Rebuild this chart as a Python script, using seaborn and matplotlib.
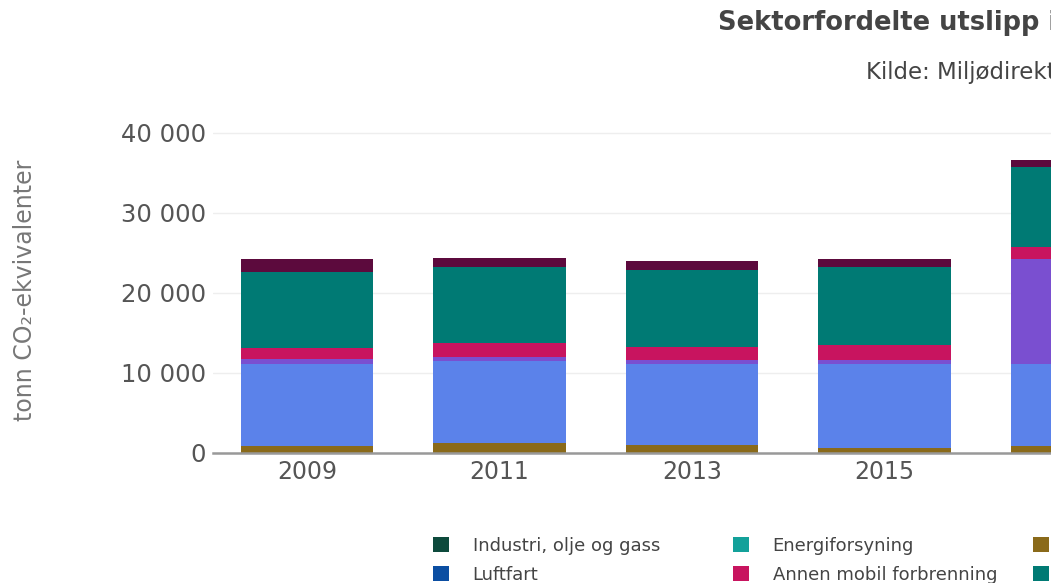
import matplotlib
matplotlib.use("Agg")
import matplotlib.pyplot as plt
import seaborn as sns
from matplotlib.patches import Patch
from matplotlib.ticker import FuncFormatter

# --- data (tonn CO2-ekvivalenter) ---
years = ["2009", "2011", "2013", "2015", "2017"]

industri = [0, 0, 0, 0, 0]
energiforsyning = [0, 0, 0, 0, 0]
oppvarming = [900, 1250, 1050, 650, 870]
veitrafikk = [10220, 10290, 10075, 10475, 10250]
sjofart = [590, 500, 500, 500, 13090]
luftfart = [0, 0, 0, 0, 0]
annen_mobil = [1450, 1750, 1665, 1875, 1580]
jordbruk = [9500, 9500, 9585, 9790, 10000]
avfall = [1540, 1120, 1125, 920, 830]

# rekkefølge = stablingsrekkefølge (nederst først) og legend-rekkefølge
sektorer = ["Industri, olje og gass", "Energiforsyning", "Oppvarming", "Veitrafikk", "Sjøfart",
            "Luftfart", "Annen mobil forbrenning", "Jordbruk", "Avfall og avløp"]
verdier = [industri, energiforsyning, oppvarming, veitrafikk, sjofart,
           luftfart, annen_mobil, jordbruk, avfall]
farger = ["#0d4a3c", "#13a19a", "#8a6a1a", "#5b82ea", "#7a4fd0",
          "#0b4ea2", "#c8145f", "#007a74", "#5c0a3d"]

sns.set_theme(style="white")
plt.rcParams["font.family"] = ["DejaVu Sans"]

fig = plt.figure(figsize=(10.51, 5.83), dpi=100)
W, H = 1051, 583
ax = fig.add_axes([213 / W, 1 - 453 / H, 1 - 213 / W, (453 - 125) / H])

bunn = [0] * len(years)
for navn, v, c in zip(sektorer, verdier, farger):
    sns.barplot(x=years, y=v, bottom=bunn, color=c, width=0.69, linewidth=0,
                saturation=1, ax=ax, zorder=3)
    bunn = [b + x for b, x in zip(bunn, v)]

# grafen er beskåret i høyre kant, som i originalen
ax.set_xlim(-0.488, (W - 307) / 192.5)
ax.set_ylim(0, 41000)
ax.set_yticks([0, 10000, 20000, 30000, 40000])
ax.yaxis.set_major_formatter(FuncFormatter(lambda v, p: f"{int(v):,}".replace(",", " ")))
ax.grid(axis="y", color="#eeeeee", linewidth=1, zorder=0)
ax.grid(axis="x", visible=False)
for s in ["left", "right", "top"]:
    ax.spines[s].set_visible(False)
ax.spines["bottom"].set_color("#999999")
ax.spines["bottom"].set_linewidth(1.8)
ax.spines["bottom"].set_zorder(5)
ax.tick_params(axis="y", length=0, labelsize=17.5, labelcolor="#555555", pad=5)
ax.tick_params(axis="x", length=0, labelsize=17, labelcolor="#555555", pad=5)
ax.set_xlabel("")
ax.set_ylabel("")

fig.text(25 / W, 1 - 290 / H, "tonn CO₂-ekvivalenter", rotation=90, ha="center", va="center",
         fontsize=17, color="#777777")

fig.text(718 / W, 1 - 23 / H, "Sektorfordelte utslipp i kommunen", ha="left", va="center",
         fontsize=18.5, fontweight="bold", color="#444444")
fig.text(866 / W, 1 - 72 / H, "Kilde: Miljødirektoratet", ha="left", va="center",
         fontsize=16.5, color="#444444")

# legend: 2 rader, faste kolonner à 300 px
for k in range(5):
    idx = [i for i in (k, k + 5) if i < len(sektorer)]
    handles = [Patch(facecolor=farger[i], edgecolor="none", label=sektorer[i]) for i in idx]
    leg = fig.legend(handles=handles, loc="upper left", bbox_to_anchor=((433 + 300 * k) / W, 1 - 537 / H),
                     frameon=False, fontsize=13, borderpad=0, borderaxespad=0,
                     handlelength=0.9, handleheight=0.9, handletextpad=1.3, labelspacing=0.6)
    for t in leg.get_texts():
        t.set_color("#444444")

fig.savefig("out.png", dpi=100)
